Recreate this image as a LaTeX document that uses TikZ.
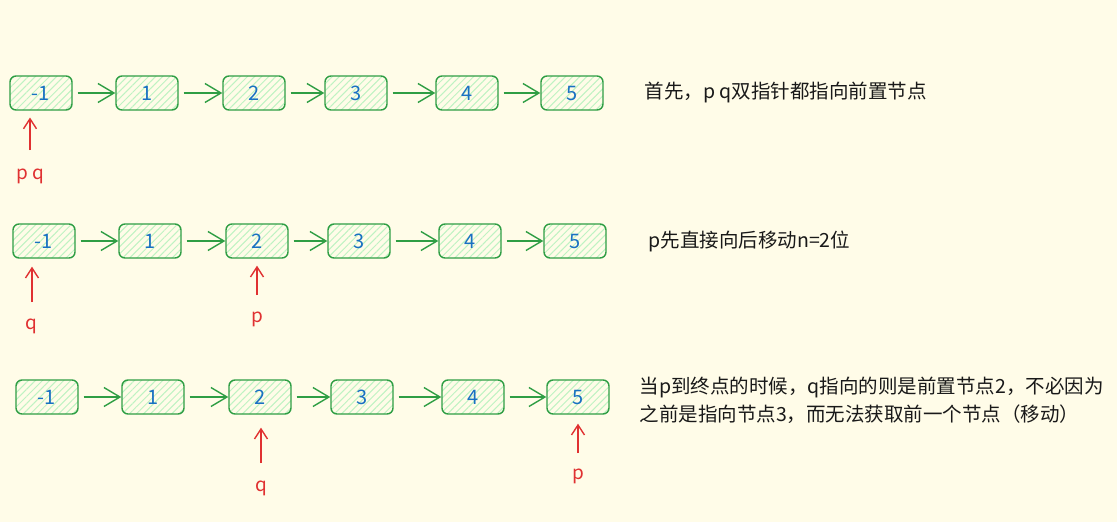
\documentclass[tikz,border=0pt]{standalone}
\usepackage{fontspec}
\setmainfont{Noto Sans CJK SC}
\usepackage{tikz}
\usetikzlibrary{arrows.meta,patterns.meta}
\definecolor{paper}{HTML}{FFFCE8}
\definecolor{boxgreen}{HTML}{2F9E44}
\definecolor{hatch}{HTML}{B2F2BB}
\definecolor{numblue}{HTML}{1971C2}
\definecolor{ptrred}{HTML}{E03131}
\tikzset{
    barb/.tip={Straight Barb[length=16pt,width=19pt]},
    smallbarb/.tip={Straight Barb[length=10pt,width=13pt]}
}

\begin{document}
\begin{tikzpicture}[x=1pt,y=-1pt,
    cell/.style={draw=boxgreen,line width=1.4pt,rounded corners=6pt,
        minimum width=62pt,minimum height=34pt,inner sep=0pt,
        pattern={Lines[angle=45,distance=5pt,line width=1pt]},pattern color=hatch!85!paper,
        text=numblue,font=\fontsize{20}{20}\selectfont},
    link/.style={boxgreen,line width=1.4pt,shorten <=5pt,-barb},
    ptr/.style={ptrred,line width=1.4pt,-smallbarb},
    tag/.style={text=ptrred,font=\fontsize{19}{19}\selectfont},
    note/.style={anchor=west,align=left,text=black!90,font=\fontsize{19.5}{28}\selectfont}]
	    \fill[paper] (0,0) rectangle (1117,522);
	    \useasboundingbox (0,0) rectangle (1117,522);
	    % three rows of the list
	    \foreach \row/\y/\dx in {1/93/0,2/241/3,3/397/6}{
	        \foreach \x/\v [count=\i from 0] in {41/-1,147/1,254/2,356/3,467/4,572/5}
	            \node[cell] (r\row-\i) at (\x+\dx,\y) {\v};
	        \foreach \i [count=\j from 1] in {0,...,4}
	            \draw[link] (r\row-\i) -- (r\row-\j);
	    }
	    % pointers
	    \coordinate (t1) at (30,150);
	    \draw[ptr,shorten >=7pt] (t1) -- (t1 |- r1-0.south);
	    \node[tag] (pq) at (30,176) {p q};
	    \coordinate (t2q) at (32,302);
	    \draw[ptr,shorten >=8pt] (t2q) -- (t2q |- r2-0.south);
	    \node[tag] (q2) at (31,326) {q};
	    \coordinate (t2p) at (257,295);
	    \draw[ptr,shorten >=7pt] (t2p) -- (t2p |- r2-2.south);
	    \node[tag] (p2) at (257,319) {p};
	    \coordinate (t3q) at (261,463);
	    \draw[ptr,shorten >=13pt] (t3q) -- (t3q |- r3-2.south);
	    \node[tag] (q3) at (261,488) {q};
	    \coordinate (t3p) at (578,453);
	    \draw[ptr,shorten >=9pt] (t3p) -- (t3p |- r3-5.south);
	    \node[tag] (p3) at (578,476) {p};
	    % notes
	    \node[note] (s1) at (641,92) {首先，p q双指针都指向前置节点};
	    \node[note] (s2) at (645,241) {p先直接向后移动n=2位};
	    \node[note] (s3) at (636,400) {当p到终点的时候，q指向的则是前置节点2，不必因为\\之前是指向节点3，而无法获取前一个节点（移动）};
	\end{tikzpicture}
\end{document}
